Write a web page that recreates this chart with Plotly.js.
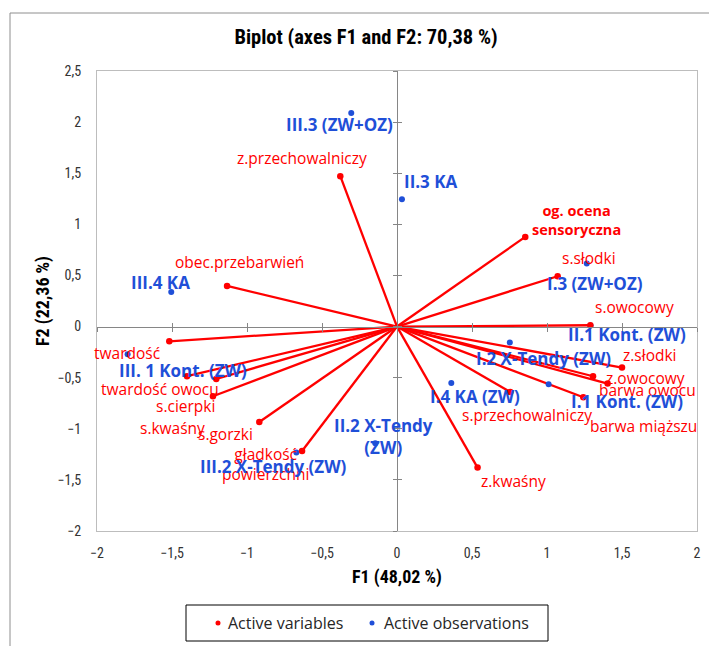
<!DOCTYPE html>
<html>
<head>
<meta charset="utf-8">
<script src="https://cdn.plot.ly/plotly-3.0.1.min.js"></script>
<style>
  html, body { margin: 0; padding: 0; background: #ffffff; }
  #chart { width: 709px; height: 646px; }
</style>
</head>
<body>
<div id="chart"></div>
<script>
// Active variables: coordinates on F1 and F2
const varNames = ['z.przechowalniczy', 'obec.przebarwień', 'og. ocena<br>sensoryczna', 's.słodki', 's.owocowy',
  'z.słodki', 'z.owocowy', 'barwa owocu', 'barwa miąższu', 's.przechowalniczy', 'z.kwaśny',
  'twardość', 'twardość owocu', 's.kwaśny', 's.cierpki', 's.gorzki', 'gładkość<br>powierzchni'];
const varF1 = [-0.378, -1.133, 0.855, 1.071, 1.289, 1.500, 1.307, 1.404, 1.242, 0.755, 0.537,
  -1.518, -1.400, -1.205, -1.227, -0.918, -0.633];
const varF2 = [1.471, 0.397, 0.877, 0.492, 0.013, -0.401, -0.486, -0.558, -0.692, -0.640, -1.380,
  -0.144, -0.486, -0.513, -0.682, -0.933, -1.217];

// Active observations: coordinates on F1 and F2
const obsNames = ['III.3 (ZW+OZ)', 'II.3 KA', 'III.4 KA', 'I.3 (ZW+OZ)', 'II.1 Kont. (ZW)', 'I.2 X-Tendy (ZW)',
  'I.4 KA (ZW)', 'I.1 Kont. (ZW)', 'II.2 X-Tendy<br>(ZW)', 'III.2 X-Tendy (ZW)', 'III. 1 Kont. (ZW)'];
const obsF1 = [-0.305, 0.033, -1.505, 1.265, 1.290, 0.752, 0.362, 1.011, -0.145, -0.671, -1.796];
const obsF2 = [2.090, 1.246, 0.339, 0.616, 0.010, -0.156, -0.552, -0.565, -1.142, -1.233, -0.271];

// Label placement around each mark, in pixels (right, down)
const varLabelShift = [[-38, -18], [12, -24], [51, -17], [31, -18], [44, -18], [28, -13], [52, 2], [40, 6],
  [60, 29], [17, 23], [36, 13], [-42, 12], [-27, 13], [-44, 49], [-27, 10], [-34, 12], [-37, 13]];
const obsLabelShift = [[-12, 12], [29, -18], [-11, -9], [8, 20], [36, 9], [34, 16], [24, 14], [78, 17],
  [8, -7], [-23, 14], [55, 16]];

const RED = '#ff0000';
const BLUE = '#1f4fd8';
const LABEL_FONT = '"Open Sans", "Noto Sans", sans-serif';
const NARROW_FONT = '"Liberation Sans Narrow", "Arial Narrow", "Roboto Condensed", "Liberation Sans", Arial, sans-serif';

const M = { l: 97, r: 12, t: 71, b: 115 };
const W = 709 - M.l - M.r;
const H = 646 - M.t - M.b;
const px2x = p => (p - M.l) / W;
const py2y = p => (646 - M.b - p) / H;

// Rays from the origin to each variable
const rayX = [], rayY = [];
varF1.forEach((v, i) => { rayX.push(0, v, null); rayY.push(0, varF2[i], null); });

const traces = [
  { x: rayX, y: rayY, mode: 'lines', line: { color: RED, width: 2.3 }, hoverinfo: 'skip', showlegend: false },
  { x: obsF1, y: obsF2, mode: 'markers', marker: { color: BLUE, size: 6 }, text: obsNames, showlegend: false },
  { x: varF1, y: varF2, mode: 'markers', marker: { color: RED, size: 6.5 }, text: varNames, showlegend: false }
];

const annotations = [];
varNames.forEach((n, i) => annotations.push({
  x: varF1[i], y: varF2[i], xref: 'x', yref: 'y', text: n, showarrow: false,
  xshift: varLabelShift[i][0], yshift: -varLabelShift[i][1], xanchor: 'center', yanchor: 'middle',
  font: i === 2
    ? { family: LABEL_FONT, size: 14.5, color: RED, weight: 'bold' }
    : { family: LABEL_FONT, size: 15.5, color: RED }
}));
obsNames.forEach((n, i) => annotations.push({
  x: obsF1[i], y: obsF2[i], xref: 'x', yref: 'y', text: n, showarrow: false,
  xshift: obsLabelShift[i][0], yshift: -obsLabelShift[i][1], xanchor: 'center', yanchor: 'middle',
  font: { family: LABEL_FONT, size: 17, color: BLUE, weight: 'bold' }
}));

// Legend box
const legendItems = [
  { label: 'Active variables', color: RED, dot: 218, text: 226 },
  { label: 'Active observations', color: BLUE, dot: 372, text: 382 }
];
const shapes = [
  { type: 'rect', xref: 'paper', yref: 'paper', x0: px2x(186), x1: px2x(548), y0: py2y(641), y1: py2y(605),
    line: { color: '#000000', width: 1 }, fillcolor: 'rgba(0,0,0,0)' },
  // chart area frame
  { type: 'line', xref: 'paper', yref: 'paper', x0: px2x(10), x1: px2x(10), y0: py2y(13), y1: py2y(660),
    line: { color: '#8e8e8e', width: 1 } },
  { type: 'line', xref: 'paper', yref: 'paper', x0: px2x(10), x1: px2x(720), y0: py2y(13), y1: py2y(13),
    line: { color: '#8e8e8e', width: 1 } }
];
legendItems.forEach(it => {
  shapes.push({ type: 'circle', xref: 'paper', yref: 'paper',
    x0: px2x(it.dot - 2.5), x1: px2x(it.dot + 2.5), y0: py2y(623 + 2.5), y1: py2y(623 - 2.5),
    fillcolor: it.color, line: { width: 0 } });
  annotations.push({ xref: 'paper', yref: 'paper', x: px2x(it.text), y: py2y(623), text: it.label,
    showarrow: false, xanchor: 'left', yanchor: 'middle',
    font: { family: LABEL_FONT, size: 16, color: '#262626' } });
});

const axisBase = {
  showgrid: false, zeroline: false, dtick: 0.5,
  tickfont: { family: NARROW_FONT, size: 14, color: '#333333' }
};
const zeroAxis = { showgrid: false, zeroline: false, showticklabels: false, showline: true,
  linecolor: '#868686', linewidth: 1, tickcolor: '#868686', ticklen: 4, dtick: 0.5, anchor: 'free' };

const layout = {
  width: 709, height: 646,
  margin: M,
  paper_bgcolor: '#ffffff', plot_bgcolor: '#ffffff',
  separators: ', ',
  showlegend: false,
  title: {
    text: 'Biplot (axes F1 and F2: 70,38 %)', xref: 'paper', x: px2x(366), xanchor: 'center',
    yref: 'container', y: 1 - 37 / 646, yanchor: 'middle',
    font: { family: NARROW_FONT, size: 20.5, color: '#000000', weight: 'bold' }
  },
  xaxis: Object.assign({}, axisBase, {
    range: [-2, 2], tick0: -2, showline: true, mirror: true, linecolor: '#bdbdbd', ticks: '',
    ticklabelstandoff: 9,
    title: { text: 'F1 (48,02 %)', standoff: 10, font: { family: NARROW_FONT, size: 18, color: '#000000', weight: 'bold' } }
  }),
  yaxis: Object.assign({}, axisBase, {
    range: [-2, 2.5], tick0: -2, showline: true, mirror: true, linecolor: '#bdbdbd', ticks: '',
    ticklabelstandoff: 12,
    title: { text: 'F2 (22,36 %)', standoff: 3, font: { family: NARROW_FONT, size: 18, color: '#000000', weight: 'bold' } }
  }),
  // axes through the origin, ticks on both sides
  xaxis2: Object.assign({}, zeroAxis, { overlaying: 'x', matches: 'x', position: 2 / 4.5, ticks: 'outside', side: 'bottom' }),
  xaxis3: Object.assign({}, zeroAxis, { overlaying: 'x', matches: 'x', position: 2 / 4.5, ticks: 'inside', side: 'bottom' }),
  yaxis2: Object.assign({}, zeroAxis, { overlaying: 'y', matches: 'y', position: 0.5, ticks: 'outside', side: 'left' }),
  yaxis3: Object.assign({}, zeroAxis, { overlaying: 'y', matches: 'y', position: 0.5, ticks: 'inside', side: 'left' }),
  shapes: shapes,
  annotations: annotations
};

// hidden carriers for the origin axes
traces.unshift(
  { x: [0], y: [0], xaxis: 'x2', yaxis: 'y2', mode: 'markers', marker: { opacity: 0 }, hoverinfo: 'skip', showlegend: false },
  { x: [0], y: [0], xaxis: 'x3', yaxis: 'y3', mode: 'markers', marker: { opacity: 0 }, hoverinfo: 'skip', showlegend: false }
);

Plotly.newPlot('chart', traces, layout, { displayModeBar: false, staticPlot: true });
</script>
</body>
</html>
